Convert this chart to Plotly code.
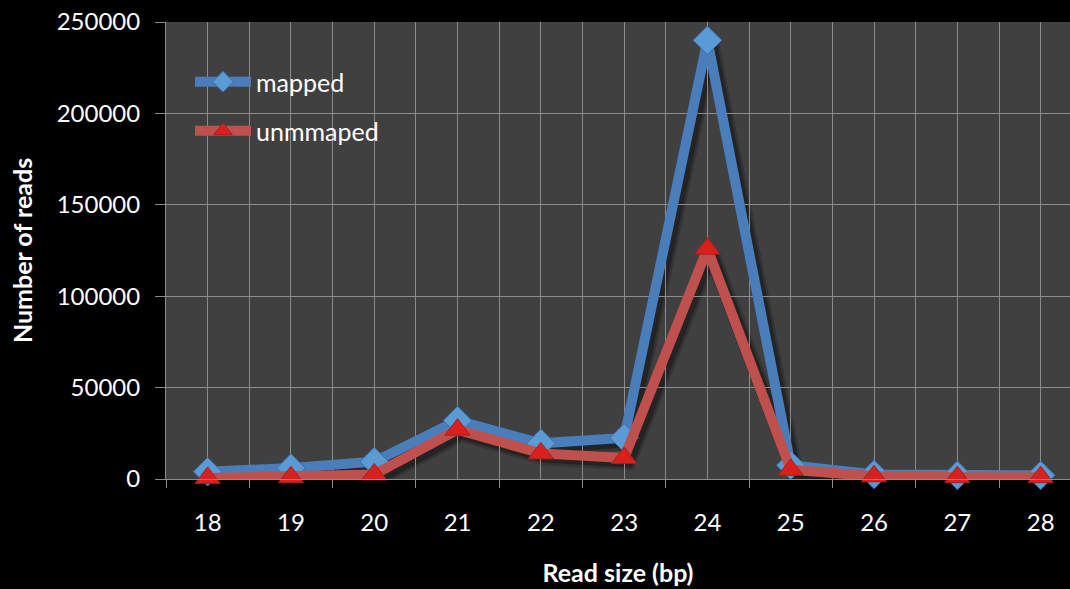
import plotly.graph_objects as go

# Read-length distribution of small RNA reads
read_size = [18, 19, 20, 21, 22, 23, 24, 25, 26, 27, 28]
mapped = [4000, 6000, 9500, 32000, 19500, 22500, 240000, 7500, 2500, 2000, 2000]
unmapped = [600, 1000, 2500, 27000, 14000, 11500, 126000, 5000, 1500, 1000, 1000]

y_ticks = [0, 50000, 100000, 150000, 200000, 250000]
Y_MAX = 250000

BLUE_LINE = "#4a7ebb"
BLUE_MARK = "#5b9bd5"
RED_LINE = "#c0504d"
RED_MARK = "#d9201c"
GRID = "#8c8c8c"
PLOT_BG = "#404040"
FONT = "Lato, 'Open Sans', sans-serif"

W, H = 1070, 589
ml, mr, mt, mb = 166, 0, 22, 110
pw, ph = W - ml - mr, H - mt - mb
CAT_PX = 83.3                      # pixel width of one read-size category
SHADOW_DX, SHADOW_DY = 4, 4        # drop-shadow offset in pixels

fig = go.Figure()

# soft drop shadows on an invisible, slightly offset copy of the axes
for series in (mapped, unmapped):
    for width, alpha in ((16, 0.18), (11, 0.30)):
        fig.add_trace(go.Scatter(
            x=read_size, y=series, mode="lines", xaxis="x", yaxis="y",
            line=dict(color=f"rgba(0,0,0,{alpha})", width=width),
            showlegend=False, hoverinfo="skip",
        ))

fig.add_trace(go.Scatter(
    x=read_size, y=mapped, name="mapped", mode="lines+markers",
    xaxis="x2", yaxis="y2",
    line=dict(color=BLUE_LINE, width=10),
    marker=dict(symbol="diamond", size=22, color=BLUE_MARK,
                line=dict(color="#3a6ea8", width=1)),
    legend="legend", cliponaxis=False,
))
fig.add_trace(go.Scatter(
    x=read_size, y=unmapped, name="unmmaped", mode="lines+markers",
    xaxis="x2", yaxis="y2",
    line=dict(color=RED_LINE, width=10),
    marker=dict(symbol="triangle-up", size=22, color=RED_MARK,
                line=dict(color="#a02020", width=1)),
    legend="legend2", cliponaxis=False,
))

legend_common = dict(
    bgcolor="rgba(0,0,0,0)", borderwidth=0,
    font=dict(family=FONT, size=25, color="white"),
    xanchor="left", yanchor="middle", itemwidth=56,
)

hidden = dict(visible=False, showgrid=False, zeroline=False)

fig.update_layout(
    width=W, height=H,
    margin=dict(l=ml, r=mr, t=mt, b=mb),
    paper_bgcolor="black",
    plot_bgcolor="rgba(0,0,0,0)",
    font=dict(family=FONT, color="white"),
    showlegend=True,
    shapes=[dict(type="rect", xref="paper", yref="paper", x0=0, x1=1,
                 y0=0, y1=1, fillcolor=PLOT_BG, line=dict(width=0),
                 layer="below")],
    legend=dict(**legend_common, x=(190 - ml) / pw, y=1 - (82 - mt) / ph),
    legend2=dict(**legend_common, x=(190 - ml) / pw, y=1 - (131 - mt) / ph),
    # shadow axes: same scale, shifted right and down
    xaxis=dict(**hidden, domain=[SHADOW_DX / pw, 1],
               range=[17.5, 17.5 + (pw - SHADOW_DX) / CAT_PX]),
    yaxis=dict(**hidden, domain=[0, 1 - SHADOW_DY / ph],
               range=[Y_MAX * SHADOW_DY / ph, Y_MAX]),
    xaxis2=dict(
        anchor="y2", domain=[0, 1],
        range=[17.5, 17.5 + pw / CAT_PX],
        tickmode="array", tickvals=read_size,
        ticktext=[str(v) for v in read_size],
        ticks="", ticklabelstandoff=22,
        tickfont=dict(size=24, color="white"),
        showgrid=True, gridcolor=GRID, gridwidth=1,
        showline=True, linecolor=GRID, linewidth=1,
        zeroline=False,
        minor=dict(tickmode="linear", tick0=17.5, dtick=1,
                   ticks="outside", ticklen=8, tickcolor=GRID,
                   showgrid=True, gridcolor=GRID, gridwidth=1),
        title=dict(text="<b>Read size (bp)</b>", standoff=29,
                   font=dict(size=25, color="white")),
    ),
    yaxis2=dict(
        anchor="x2", domain=[0, 1],
        range=[0, Y_MAX],
        tickmode="array", tickvals=y_ticks,
        ticktext=[str(v) for v in y_ticks],
        ticks="outside", ticklen=10, tickcolor=GRID,
        ticklabelstandoff=10,
        tickfont=dict(size=24, color="white"),
        showgrid=True, gridcolor=GRID, gridwidth=1,
        showline=True, linecolor=GRID, linewidth=1,
        zeroline=False,
        title=dict(text="<b>Number of reads</b>", standoff=16,
                   font=dict(size=25, color="white")),
    ),
)

fig.write_html("out.html")
